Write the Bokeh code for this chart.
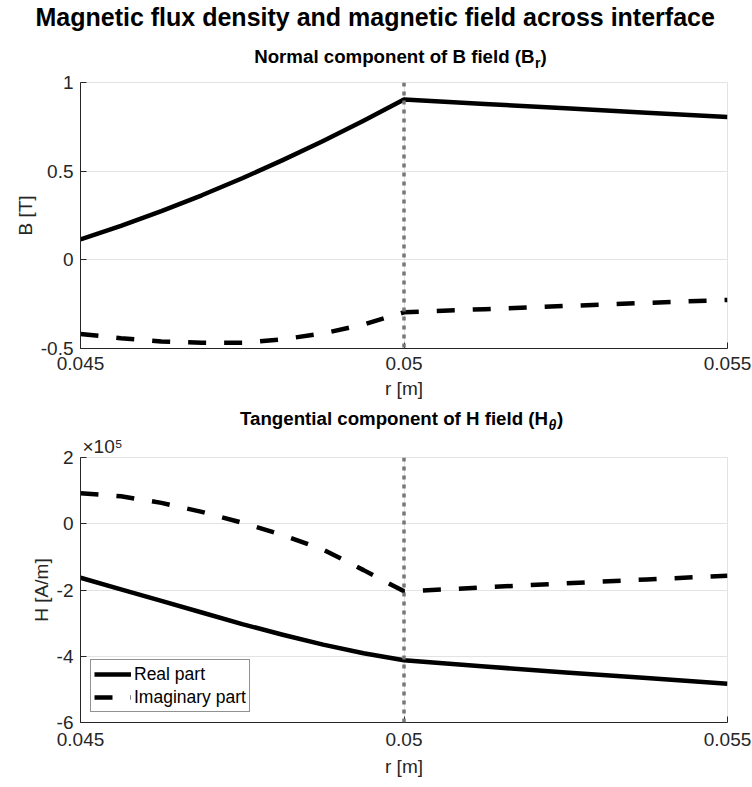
from bokeh.plotting import figure
from bokeh.layouts import column
from bokeh.models import Range1d, FixedTicker, Legend, LegendItem, Span, Title
from bokeh.core.properties import value
from bokeh.embed import file_html
from bokeh.resources import INLINE

# ---- data -------------------------------------------------------------
# radius samples: inner region (up to the interface) and outer region
r_inner = [0.045, 0.045625, 0.04625, 0.046875, 0.0475, 0.048125, 0.04875, 0.049375, 0.05]
r_outer = [0.05, 0.05125, 0.0525, 0.05375, 0.055]

# normal component of B [T]
br_real_inner = [0.115, 0.192, 0.275, 0.364, 0.460, 0.562, 0.670, 0.784, 0.904]
br_real_outer = [0.904, 0.879, 0.855, 0.830, 0.806]
br_imag_inner = [-0.418, -0.442, -0.460, -0.468, -0.467, -0.448, -0.415, -0.365, -0.296]
br_imag_outer = [-0.296, -0.278, -0.260, -0.243, -0.226]

# tangential component of H [A/m]
ht_real_inner = [-1.63e5, -1.98e5, -2.33e5, -2.68e5, -3.03e5, -3.35e5, -3.65e5, -3.91e5, -4.12e5]
ht_real_outer = [-4.12e5, -4.31e5, -4.49e5, -4.66e5, -4.83e5]
ht_imag_inner = [0.92e5, 0.83e5, 0.63e5, 0.36e5, 0.03e5, -0.34e5, -0.78e5, -1.40e5, -2.04e5]
ht_imag_outer = [-2.04e5, -1.92e5, -1.80e5, -1.68e5, -1.57e5]

r_interface = 0.05

x_ticks = [0.045, 0.05, 0.055]
x_tick_labels = ["0.045", "0.05", "0.055"]
b_ticks = [-0.5, 0, 0.5, 1]
b_tick_labels = ["-0.5", "0", "0.5", "1"]
h_ticks = [-6e5, -4e5, -2e5, 0, 2e5]
h_tick_labels = ["-6", "-4", "-2", "0", "2"]

# ---- styling ----------------------------------------------------------
FONT = "Liberation Sans"
AX_COLOR = "#262626"
GRID_COLOR = "#e3e3e3"
W = 752
FRAME_L, FRAME_R = 80, 727          # horizontal extent shared by all frames

r_all = r_inner + r_outer[1:]


def header(height, top_border=0):
    """Strip with no axes; x in canvas pixels, y measured from its bottom edge."""
    h = figure(width=W, height=height, x_range=Range1d(FRAME_L, FRAME_R),
               y_range=Range1d(0, 1), x_axis_type=None, y_axis_type=None,
               min_border_left=FRAME_L, min_border_right=W - FRAME_R,
               min_border_top=top_border, min_border_bottom=0,
               toolbar_location=None, output_backend="svg")
    h.outline_line_color = None
    h.background_fill_color = "white"
    h.border_fill_color = "white"
    return h


def put_text(h, x, rise, txt, size, style="normal", align="left", color="black"):
    # rise: baseline height (px) above the strip's bottom edge
    h.text(x=[x], y=[0], y_offset=-rise, text=[txt], text_font=value(FONT),
           text_font_size=value(size), text_font_style=style, text_align=align,
           text_baseline="alphabetic", text_color=color)


def subtitle(h, x_end, rise, main, sub, sub_style, sub_w):
    put_text(h, x_end, rise, main, "18.7px", "bold", "right")
    put_text(h, x_end + 0.5, rise - 6, sub, "14px", sub_style)
    put_text(h, x_end + 0.5 + sub_w, rise, ")", "18.7px", "bold")


def panel(height, top_border, bottom_border, y_range, yticks, ylabels, ylabel,
          tick_gap, label_gap):
    p = figure(width=W, height=height, x_range=Range1d(0.045, 0.055), y_range=y_range,
               min_border_left=FRAME_L, min_border_right=W - FRAME_R,
               min_border_top=top_border, min_border_bottom=bottom_border,
               toolbar_location=None, output_backend="svg")
    p.outline_line_color = GRID_COLOR
    p.background_fill_color = "white"
    p.border_fill_color = "white"
    p.xaxis.ticker = FixedTicker(ticks=x_ticks)
    p.xaxis.major_label_overrides = dict(zip(x_ticks, x_tick_labels))
    p.yaxis.ticker = FixedTicker(ticks=yticks)
    p.yaxis.major_label_overrides = dict(zip(yticks, ylabels))
    p.xgrid.ticker = FixedTicker(ticks=x_ticks)
    p.ygrid.ticker = FixedTicker(ticks=yticks)
    for g in (p.xgrid, p.ygrid):
        g.grid_line_color = GRID_COLOR
        g.grid_line_width = 1
    for ax in (p.xaxis, p.yaxis):
        ax.axis_line_color = AX_COLOR
        ax.axis_line_width = 1
        ax.major_tick_line_color = AX_COLOR
        ax.major_tick_in = 6
        ax.major_tick_out = 0
        ax.minor_tick_line_color = None
        ax.major_label_text_font = FONT
        ax.major_label_text_font_size = "19px"
        ax.major_label_text_color = AX_COLOR
        ax.axis_label_text_font = FONT
        ax.axis_label_text_font_size = "19px"
        ax.axis_label_text_font_style = "normal"
        ax.axis_label_text_color = AX_COLOR
    p.xaxis.axis_label = "r [m]"
    p.xaxis.major_label_standoff = tick_gap
    p.xaxis.axis_label_standoff = label_gap
    p.yaxis.axis_label = ylabel
    p.yaxis.major_label_standoff = 7
    p.yaxis.axis_label_standoff = 2
    return p


def draw_pair(p, real_vals, imag_vals):
    real_r = p.line(r_all, real_vals, line_color="black", line_width=4.5, line_join="round")
    imag_r = p.line(r_all, imag_vals, line_color="black", line_width=4.5, line_dash="18 18")
    p.add_layout(Span(location=r_interface, dimension="height", line_color="#777777",
                      line_width=3.5, line_dash="4 5"))
    return real_r, imag_r


# ---- heading strip (figure title + first panel title) ------------------
head1 = header(72, top_border=7)
head1.add_layout(Title(text="Magnetic flux density and magnetic field across interface",
                       align="left", offset=-45, standoff=0, text_font=FONT,
                       text_font_size="25px", text_font_style="bold", text_color="black"),
                 "above")
subtitle(head1, 534, 16, "Normal component of B field (B", "r", "bold", 5.5)

# ---- top panel: B_r ---------------------------------------------------
top = panel(330, 10, 54, Range1d(-0.5, 1), b_ticks, b_tick_labels, "B [T]", 8, 5)
draw_pair(top, br_real_inner + br_real_outer[1:], br_imag_inner + br_imag_outer[1:])

# ---- strip above the bottom panel --------------------------------------
head2 = header(31)
subtitle(head2, 547.5, 15, "Tangential component of H field (H", "\u03b8", "bold italic", 8.5)

# ---- bottom panel: H_theta --------------------------------------------
bot = panel(354, 0, 65, Range1d(-6e5, 2e5), h_ticks, h_tick_labels, "H [A/m]", 10, 7)
bot.add_layout(Title(text="\u00d710\u2075", align="left", offset=2, standoff=1,
                     text_font=FONT, text_font_size="19px", text_font_style="normal",
                     text_color=AX_COLOR), "above")
real_r, imag_r = draw_pair(bot, ht_real_inner + ht_real_outer[1:],
                           ht_imag_inner + ht_imag_outer[1:])

legend = Legend(items=[LegendItem(label="Real part", renderers=[real_r]),
                       LegendItem(label="Imaginary part", renderers=[imag_r])],
                location="bottom_left", margin=10, padding=3, spacing=1,
                glyph_width=37, glyph_height=22, label_height=22, label_standoff=3,
                label_text_font=FONT, label_text_font_size="17.5px", label_text_color="black",
                border_line_color=AX_COLOR, border_line_width=1,
                background_fill_color="white", background_fill_alpha=1)
bot.add_layout(legend)

layout = column(head1, top, head2, bot, spacing=0)
open("out.html", "w").write(file_html(layout, INLINE))
